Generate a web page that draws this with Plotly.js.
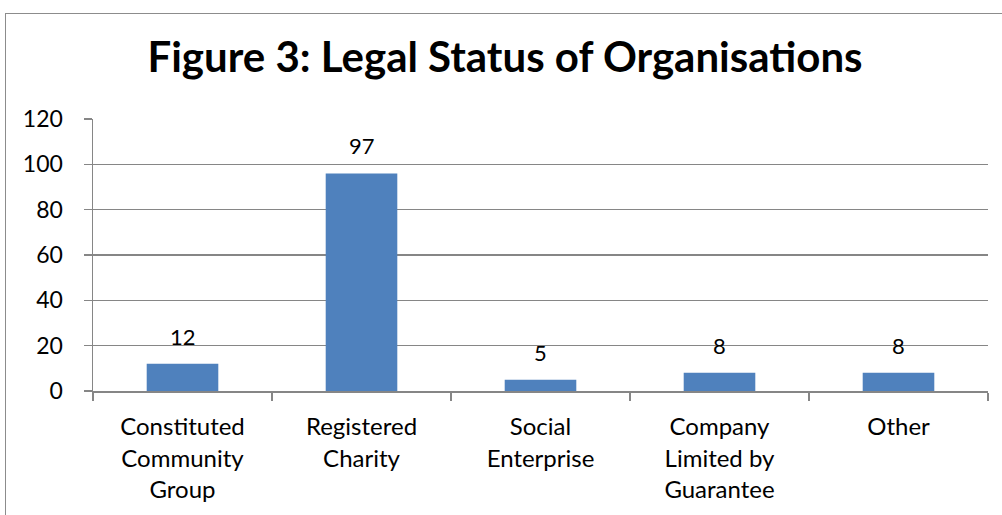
<!DOCTYPE html>
<html>
<head>
<meta charset="utf-8">
<script src="https://cdn.plot.ly/plotly-3.0.1.min.js"></script>
<style>
  html, body { margin: 0; padding: 0; width: 1002px; height: 515px; overflow: hidden; background: #fff; }
  #chart { position: absolute; left: 0; top: 0; width: 1002px; height: 515px; }
  #frame { position: absolute; left: 5px; top: 13px; width: 1100px; height: 600px;
           border-left: 1.5px solid #8c8c8c; border-top: 1.5px solid #8c8c8c; pointer-events: none; }
</style>
</head>
<body>
<div id="chart"></div>
<div id="frame"></div>
<script>
const categories = [
  "Constituted<br>Community<br>Group",
  "Registered<br>Charity",
  "Social<br>Enterprise",
  "Company<br>Limited by<br>Guarantee",
  "Other"
];
const barValues = [12, 96, 5, 8, 8];
const dataLabels = ["12", "97", "5", "8", "8"];
const yTickValues = [0, 20, 40, 60, 80, 100, 120];

const FONT = "Lato, 'Open Sans', 'DejaVu Sans', sans-serif";

const trace = {
  type: "bar",
  x: categories,
  y: barValues,
  marker: { color: "#4F81BD", line: { width: 0 } },
  hoverinfo: "skip"
};

const annotations = categories.map((c, i) => ({
  x: c, y: barValues[i], xref: "x", yref: "y",
  text: dataLabels[i], showarrow: false,
  yanchor: "bottom", yshift: 12,
  font: { family: FONT, size: 22, color: "#000" }
}));

const layout = {
  width: 1002, height: 515,
  margin: { l: 93, r: 14, t: 119, b: 124, pad: 0 },
  paper_bgcolor: "#fff", plot_bgcolor: "#fff",
  showlegend: false,
  bargap: 0.6,
  title: {
    text: "<b>Figure 3: Legal Status of Organisations</b>",
    font: { family: FONT, size: 42, color: "#000" },
    x: 0.504, xanchor: "center", y: 0.888, yanchor: "middle"
  },
  xaxis: {
    type: "category",
    showline: true, linecolor: "#868686", linewidth: 1.5,
    ticks: "outside", tickson: "boundaries", ticklen: 8, tickcolor: "#868686", tickwidth: 1.5,
    tickfont: { family: FONT, size: 24, color: "#000" },
    ticklabelstandoff: 14,
    showgrid: false, fixedrange: true
  },
  yaxis: {
    range: [0, 120],
    tickvals: yTickValues,
    ticktext: yTickValues.map(String),
    showline: true, linecolor: "#868686", linewidth: 1.5,
    ticks: "outside", ticklen: 8, tickcolor: "#868686", tickwidth: 1.5,
    showgrid: true, gridcolor: "#868686", gridwidth: 1.5,
    zeroline: false,
    tickfont: { family: FONT, size: 23, color: "#000" },
    ticklabelstandoff: 16,
    fixedrange: true
  },
  annotations: annotations
};

Plotly.newPlot("chart", [trace], layout, { displayModeBar: false, staticPlot: true });
</script>
</body>
</html>
